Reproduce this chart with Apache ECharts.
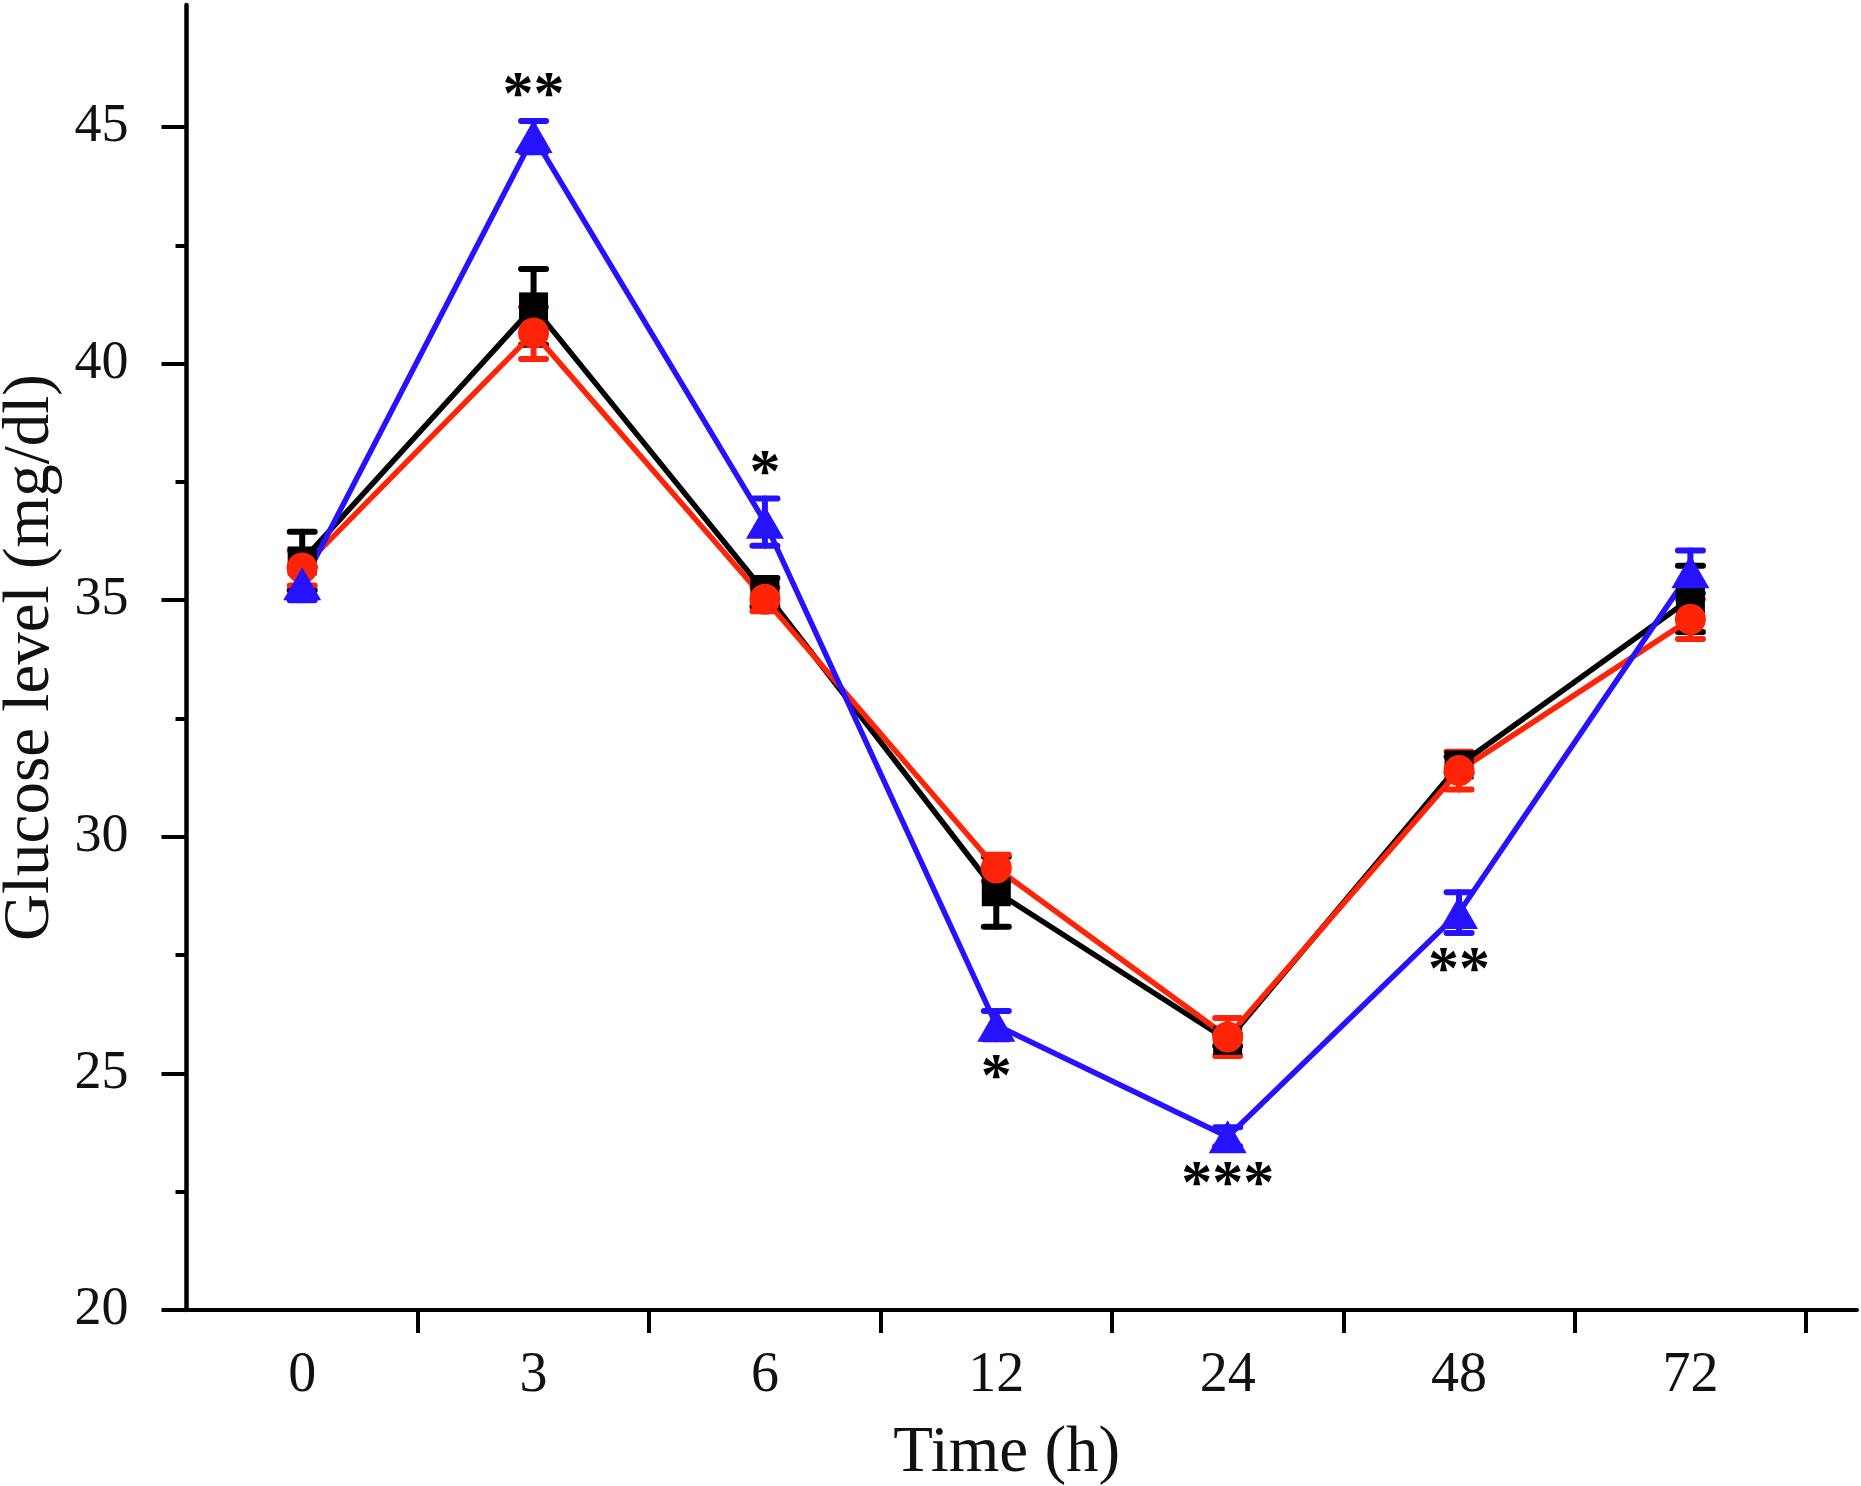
<!DOCTYPE html>
<html><head><meta charset="utf-8">
<script src="https://cdn.jsdelivr.net/npm/echarts@6/dist/echarts.min.js"></script>
<style>html,body{margin:0;padding:0;background:#fff}#c{width:1861px;height:1486px}</style>
</head><body><div id="c"></div>
<script>
// ---- data ----
const categories = ['0', '3', '6', '12', '24', '48', '72'];
const blackMean = [35.83, 41.2, 35.17, 28.84, 25.7, 31.52, 35.03];
const blackErr  = [0.62, 0.8, 0.3, 0.74, 0.12, 0.17, 0.7];
const redMean   = [35.68, 40.65, 35.02, 29.34, 25.77, 31.4, 34.6];
const redErr    = [0.37, 0.55, 0.25, 0.28, 0.4, 0.4, 0.42];
const blueMean  = [35.35, 44.8, 36.65, 26.02, 23.66, 28.4, 35.6];
const blueErr   = [0.35, 0.33, 0.5, 0.3, 0.2, 0.43, 0.45];
const sigMarks  = ['', '**', '*', '*', '***', '**', ''];
const sigSide   = ['', 'top', 'top', 'bottom', 'bottom', 'bottom', ''];
const yTicks = [20, 25, 30, 35, 40, 45];
const yMinorTicks = [22.5, 27.5, 32.5, 37.5, 42.5];
const xTicks = [1, 2, 3, 4, 5, 6, 7];

const BLACK = '#000000', RED = '#FF2408', BLUE = '#2612FF';
const FONT = 'Liberation Serif';
const TXT = '#111111';

const pos = i => i + 0.5;

function lineSeries(name, means, color, symbol, size) {
  return {
    name, type: 'line', data: means.map((m, i) => [pos(i), m]),
    symbol, symbolSize: size, showSymbol: true,
    lineStyle: { color, width: 5.5 }, itemStyle: { color, opacity: 1 },
    emphasis: { disabled: true }, animation: false
  };
}
function errorSeries(name, means, errs, color) {
  return {
    name, type: 'custom', animation: false,
    data: means.map((m, i) => [pos(i), m - errs[i], m + errs[i]]),
    encode: { x: 0, y: [1, 2] },
    renderItem: (params, api) => {
      const x = api.value(0);
      const pLo = api.coord([x, api.value(1)]);
      const pHi = api.coord([x, api.value(2)]);
      const hw = 12.5;
      const style = { stroke: color, lineWidth: 6, lineCap: 'round' };
      return { type: 'group', children: [
        { type: 'line', shape: { x1: pLo[0], y1: pLo[1], x2: pHi[0], y2: pHi[1] }, style },
        { type: 'line', shape: { x1: pLo[0] - hw, y1: pLo[1], x2: pLo[0] + hw, y2: pLo[1] }, style },
        { type: 'line', shape: { x1: pHi[0] - hw, y1: pHi[1], x2: pHi[0] + hw, y2: pHi[1] }, style }
      ]};
    }
  };
}

const sigLabelStyle = { fontFamily: FONT, fontSize: 62, fontWeight: 'bold', color: '#000000', opacity: 1, textBorderWidth: 0 };
const sigData = [];
sigMarks.forEach((s, i) => {
  if (!s) return;
  const top = sigSide[i] === 'top';
  sigData.push({
    value: [pos(i), top ? blueMean[i] + blueErr[i] : blueMean[i] - blueErr[i]],
    label: Object.assign({ show: true, formatter: s, position: sigSide[i], distance: top ? -8 : 8 }, sigLabelStyle)
  });
});

const chart = echarts.init(document.getElementById('c'), null, { renderer: 'canvas' });
chart.setOption({
  backgroundColor: '#ffffff',
  animation: false,
  grid: { left: 186.5, right: 4, top: 5, bottom: 176, containLabel: false, outerBoundsMode: 'none' },
  xAxis: [{
    type: 'value', min: 0, max: 7.22,
    axisLine: { show: true, onZero: false, lineStyle: { color: BLACK, width: 4 } },
    axisTick: { show: true, customValues: xTicks, length: 23, lineStyle: { color: BLACK, width: 4 } },
    axisLabel: {
      show: true, customValues: categories.map((c, i) => pos(i)),
      formatter: v => categories[Math.round(v - 0.5)],
      fontFamily: FONT, fontSize: 56, color: TXT, margin: 38
    },
    splitLine: { show: false },
    name: 'Time (h)', nameLocation: 'middle', nameGap: 111,
    nameTextStyle: { fontFamily: FONT, fontSize: 65, color: TXT, padding: [0, 30, 0, 0] }
  }],
  yAxis: [{
    type: 'value', min: 20, max: 47.58, position: 'left',
    axisLine: { show: true, onZero: false, lineStyle: { color: BLACK, width: 4.5 } },
    axisTick: { show: true, customValues: yTicks, length: 25, lineStyle: { color: BLACK, width: 4 } },
    axisLabel: {
      show: true, customValues: yTicks,
      fontFamily: FONT, fontSize: 54, color: TXT, margin: 58
    },
    splitLine: { show: false },
    name: 'Glucose level (mg/dl)', nameLocation: 'middle', nameGap: 121, nameRotate: 90,
    nameTextStyle: { fontFamily: FONT, fontSize: 65, color: TXT }
  }, {
    type: 'value', min: 20, max: 47.58, position: 'left', offset: 0,
    axisLine: { show: false },
    axisTick: { show: true, customValues: yMinorTicks, length: 11, lineStyle: { color: BLACK, width: 4 } },
    axisLabel: { show: false },
    splitLine: { show: false }
  }],
  series: [
    lineSeries('Black', blackMean, BLACK, 'rect', 29),
    lineSeries('Red', redMean, RED, 'circle', 31),
    lineSeries('Blue', blueMean, BLUE, 'triangle', [38, 33]),
    errorSeries('Black err', blackMean, blackErr, BLACK),
    errorSeries('Red err', redMean, redErr, RED),
    errorSeries('Blue err', blueMean, blueErr, BLUE),
    {
      name: 'Significance', type: 'scatter', data: sigData, symbolSize: 1,
      itemStyle: { color: 'rgba(0,0,0,0)' }, silent: true, animation: false,
      label: sigLabelStyle
    }
  ]
});
</script>
</body></html>
